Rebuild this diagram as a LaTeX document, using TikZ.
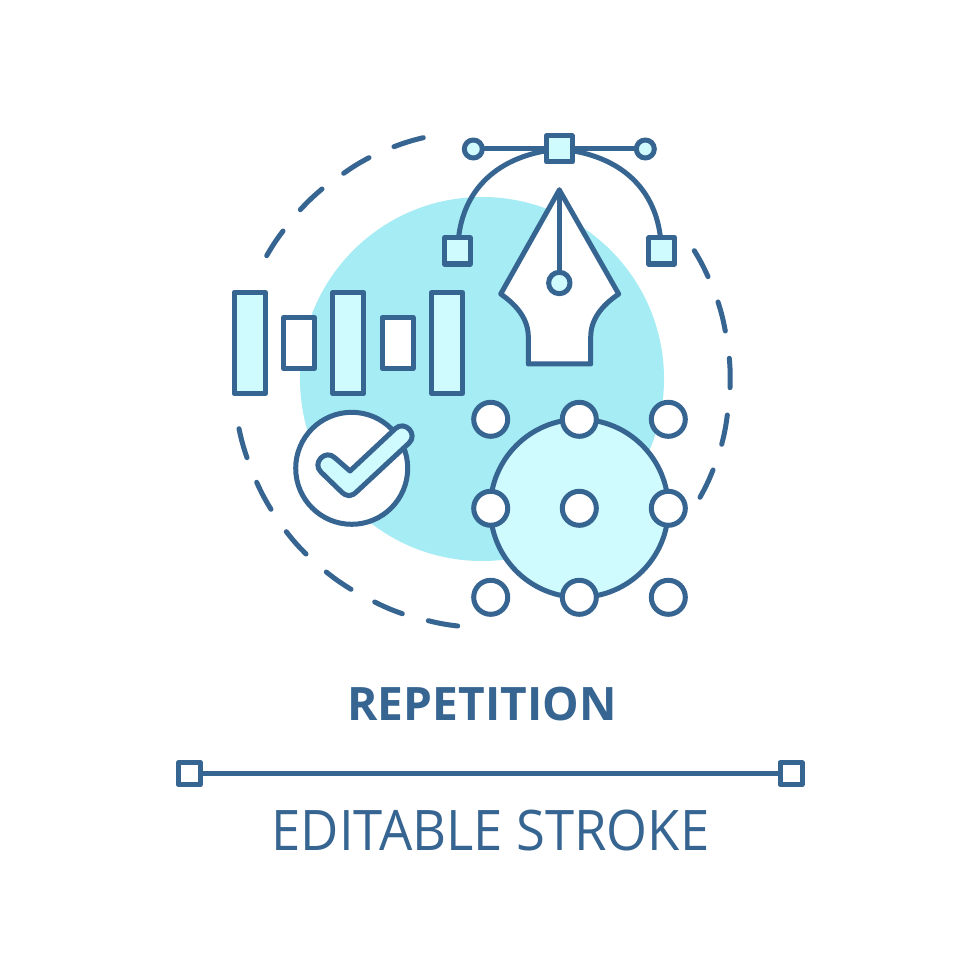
\documentclass[tikz,border=0pt]{standalone}
\usepackage{fontspec}
\newfontfamily\osans{Open Sans}
\newfontfamily\osanscond[FakeStretch=0.94]{Open Sans}
\definecolor{ink}{HTML}{376592}
\definecolor{pale}{HTML}{CFFAFE}
\definecolor{aqua}{HTML}{A5ECF4}
\tikzset{
  ln/.style={draw=ink,line width=0.05cm,line join=round,line cap=round},
  dashseg/.style={ln,bend left=3.5},
  hsq/.style={ln,rectangle,fill=pale,minimum size=0.26cm,inner sep=0,outer sep=0},
  hdot/.style={ln,circle,fill=pale,minimum size=0.18cm,inner sep=0,outer sep=0},
  ptdot/.style={ln,circle,fill=white,minimum size=0.34cm,inner sep=0,outer sep=0},
  barbig/.style={ln,fill=pale},
  barsmall/.style={ln,fill=white},
  endsq/.style={ln,rectangle,fill=white,minimum size=0.22cm,inner sep=0,outer sep=0},
  lbl/.style={text=ink,inner sep=0,outer sep=0,anchor=base},
}
\begin{document}
\begin{tikzpicture}[x=0.01cm,y=-0.01cm]
\useasboundingbox (0,0) rectangle (980,980);
\fill[white] (0,0) rectangle (980,980);
% blue disc
\fill[aqua] (482,379) circle[radius=182];
% dashed ring
\foreach \a/\b/\c/\d in {
 266.7/255.7/283/231, 300.3/209.7/322/189, 343.7/173.3/369/157.7, 394/146.7/423.3/137.7,
 694.3/250.7/708/276.7, 718/302/725.3/331, 729.3/358.3/730/387.7, 727.3/415/721.7/444.3,
 713/470/700/497.3,
 457.7/626/428.3/620.7, 402.3/613.7/374.7/602, 351/589.3/326.3/572, 306/554/286.3/531.7,
 271/509.3/256.7/482.3, 247/457.7/239/428.7}
 {\draw[dashseg] (\a,\b) to (\c,\d);}
% bars
\draw[barbig] (234,292.5) rectangle (265.5,393.5);
\draw[barsmall] (283.5,317.5) rectangle (314.5,368.5);
\draw[barbig] (332.8,292.5) rectangle (363.8,393.5);
\draw[barsmall] (382,317.5) rectangle (413,368.5);
\draw[barbig] (431.5,292.5) rectangle (462.5,393.5);
% check badge
\draw[ln,fill=white] (351.7,468.3) circle[radius=56];
\draw[ln,fill=pale] (350,471) -- (395.2,428.7)
  .. controls (404.9,419.7) and (418.5,434.3) .. (408.8,443.3)
  -- (358,490.5) .. controls (351,497.5) and (347,497.5) .. (340,490.5)
  -- (321.1,472.2)
  .. controls (311.5,463) and (325.3,448.6) .. (334.9,457.8) -- cycle;
% nib
\draw[ln,fill=white] (559.3,190) -- (500.7,294) .. controls (518,306) and (528.3,320) .. (528.3,337)
  -- (528.3,364) -- (590.7,364) -- (590.7,337) .. controls (590.7,320) and (601,306) .. (618.7,294) -- cycle;
\node[hdot,minimum size=0.214cm] (nibdot) at (559.3,283) {};
\coordinate (nibtip) at (559.3,190);
\draw[ln] (nibtip) -- (nibdot);
% bezier handles
\coordinate (hl) at (473.3,149);
\coordinate (hr) at (645.3,149);
\coordinate (tc) at (559.3,149);
\draw[ln] (hl) -- (hr);
\node[hdot] (hleft) at (hl) {};
\node[hdot] (hright) at (hr) {};
\coordinate (bl) at (458.3,240);
\coordinate (br) at (660.7,240);
\draw[ln] (bl) .. controls (463,190) and (497,155) .. (tc);
\draw[ln] (br) .. controls (656,190) and (622,155) .. (tc);
\node[hsq] (top) at (tc) {};
\node[hsq] (sqleft) at (457.3,251) {};
\node[hsq] (sqright) at (661.7,251) {};
% point grid
\draw[ln,fill=pale] (579.3,508.3) circle[radius=89];
\foreach \n/\x/\y in {a/490.7/419.3,b/579.3/419.3,c/668.3/419.3,d/490.7/508.3,e/579.3/508.3,f/668.3/508.3,g/490.7/597.3,h/579.3/597.3,i/668.3/597.3}
  {\node[ptdot] (p\n) at (\x,\y) {};}
% labels
\node[lbl] (title) at (482,720.5) {\osans\bfseries\fontsize{13.1pt}{15pt}\selectfont REPETITION};
\node[endsq] (endl) at (189.5,773.7) {};
\node[endsq] (endr) at (791,773.7) {};
\draw[ln] (endl) -- (endr);
\node[lbl] (sub) at (490.5,850) {\osanscond\fontsize{15.9pt}{19pt}\selectfont EDITABLE STROKE};
\end{tikzpicture}
\end{document}
